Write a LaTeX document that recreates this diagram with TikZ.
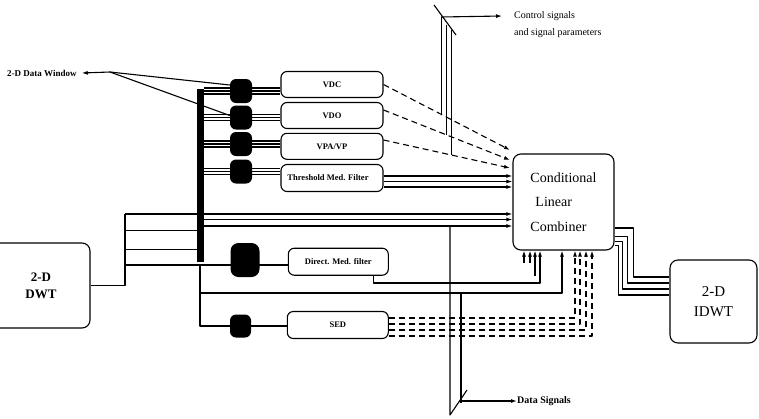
\documentclass[tikz,border=0pt]{standalone}
\usepackage{fontspec}
\setmainfont{Liberation Serif}
\usetikzlibrary{arrows.meta,calc}

\tikzset{
  unit/.style={draw,line width=1.1pt,rounded corners=6pt,minimum width=102pt,minimum height=26pt,
    inner sep=0pt,font=\fontsize{8.5}{10}\selectfont\bfseries},
  blob/.style={fill=black,rounded corners=6pt,minimum width=22pt,minimum height=24pt,inner sep=0pt},
  bigbox/.style={draw,line width=1.1pt,rounded corners=8pt,inner sep=0pt,align=center},
  wire/.style={line width=1.1pt},
  sig/.style={wire,-{Latex[length=6pt,width=4pt]}},
  ctl/.style={sig,dash pattern=on 6pt off 4pt},
  note/.style={inner sep=0pt,font=\fontsize{9}{10}\selectfont\bfseries}
}

\begin{document}
\begin{tikzpicture}[x=1pt,y=-1pt,line join=round]
  \useasboundingbox (0,0) rectangle (759,418);
  % transforms and combiner
  \node[bigbox,minimum width=98pt,minimum height=85pt,font=\fontsize{13}{17}\selectfont\bfseries]
    (dwt) at (41,285.5) {2-D\\DWT};
  \node[bigbox,minimum width=101pt,minimum height=96pt,align=left,font=\fontsize{14}{24.5}\selectfont]
    (clc) at (563.5,202) {Conditional\\\hspace{5pt}Linear\\Combiner};
  \node[bigbox,minimum width=87pt,minimum height=83pt,font=\fontsize{15}{20}\selectfont]
    (idwt) at (713.5,301.5) {2-D\\IDWT};
  % data window bus
  \node[fill=black,minimum width=7pt,minimum height=173pt,inner sep=0pt] (bus) at (200.5,175.5) {};
  % filters
  \foreach \n/\y/\t in {vdc/84.5/VDC, vdo/115.5/VDO, vpa/146.3/{VPA/VP}}
    \node[unit] (\n) at (332,\y) {\t};
  \node[unit,minimum height=27pt] (thr) at (332,178) {Threshold Med. Filter\hspace*{8pt}};
  \node[unit,minimum width=100pt,minimum height=27pt] (dmf) at (338.3,261.7) {Direct. Med. filter};
  \node[unit,minimum width=101pt,minimum height=27pt] (sed) at (337.8,325) {SED};
  % window blobs
  \foreach \n/\y in {w1/91, w2/117.5, w3/144, w4/171.5}
    \node[blob] (\n) at (241,\y) {};
  \node[blob,minimum width=29pt,minimum height=34pt,rounded corners=8pt] (wd) at (245,260) {};
  \node[blob,minimum width=21pt,minimum height=23pt] (ws) at (240.5,326) {};
  % bus -> windows -> filters
  \foreach \w/\f in {w1/vdc, w2/vdo, w3/vpa, w4/thr}
    \foreach \d in {-3,0,3}{
      \draw[wire] ([yshift=\d pt]\w.west -| bus.east) -- ([yshift=\d pt]\w.west);
      \draw[wire] ([yshift=\d pt]\w.east) -- ([yshift=\d pt]\w.east -| \f.west);
    }
  % data window label
  \node[note,anchor=west] (dwin) at (7,73) {2-D Data Window};
  \coordinate (dwj) at (110,72);
  \draw[sig] (dwj) -- ([xshift=5pt]dwin.east);
  \draw[wire] (dwj) -- ([yshift=6pt]w1.west);
  \draw[wire] (dwj) -- ([yshift=2pt]w2.west);
  % DWT outputs
  \coordinate (s1) at (125,214);
  \coordinate (s2) at (125,230.7);
  \coordinate (s3) at (125,249.3);
  \coordinate (s4) at (125,265);
  \coordinate (s5) at (200,265);
  \coordinate (s6) at (200,293);
  \draw[wire] (dwt.east) -| (s1);
  \draw[sig] (s1) -- (s1 -| clc.west);
  \draw[wire] (s2) -- (s2 -| bus.west);
  \draw[wire] (s3) -- (s3 -| bus.west);
  \draw[wire] (s4) -- (s4 -| dmf.west);
  \draw[wire] (s5) |- (ws.west);
  \draw[wire] (ws.east) -- (ws.east -| sed.west);
  \draw[sig] (s6) -| ([xshift=-1.5pt]clc.south);
  % bus -> combiner
  \coordinate (o1) at (204,219.5);
  \coordinate (o2) at (204,226);
  \draw[sig] (o1) -- (o1 -| clc.west);
  \draw[sig] (o2) -- (o2 -| clc.west);
  % threshold -> combiner
  \foreach \d in {2,-3.5,-9}
    \draw[sig] ([yshift=\d pt]thr.east) -- ([yshift=\d pt]thr.east -| clc.west);
  % control paths
  \coordinate (c1) at (510,150);
  \coordinate (c2) at (510,160);
  \coordinate (c3) at (510,168);
  \draw[ctl] (vdc.east) -- coordinate[pos=0.457] (t1) (c1);
  \draw[ctl] ([yshift=5.5pt]vdo.east) -- coordinate[pos=0.496] (t2) (c2);
  \draw[ctl] ([yshift=6.3pt]vpa.east) -- coordinate[pos=0.535] (t3) (c3);
  % control signal tap
  \coordinate (k1) at (441,17);
  \coordinate (k2) at (446,25);
  \coordinate (k3) at (451,30);
  \coordinate (ka) at (434,5);
  \coordinate (kb) at (456,35);
  \draw[wire] (t1) -- (t1 |- k1);
  \draw[wire] (t2) -- (t2 |- k2);
  \draw[wire] (t3) -- (t3 |- k3);
  \draw[wire] (ka) -- (kb);
  \node[anchor=west,inner sep=0pt,font=\fontsize{10}{12}\selectfont] (ctext) at (514,16) {Control signals};
  \node[anchor=west,inner sep=0pt,font=\fontsize{10}{12}\selectfont] (ptext) at (514,33) {and signal parameters};
  \draw[sig] (k1) -- ([xshift=-12pt]ctext.west);
  % direct median filter -> combiner
  \coordinate (m1) at (540,283);
  \draw[sig] ([xshift=35pt]dmf.south) |- (m1) -- (m1 |- clc.south);
  \draw[sig] ([xshift=-28.5pt,yshift=-25pt]clc.south) -- ([xshift=-28.5pt]clc.south);
  \foreach \dx in {-39.5,-33.5}
    \draw[sig] ([xshift=\dx pt,yshift=-12pt]clc.south) -- ([xshift=\dx pt]clc.south);
  % SED -> combiner
  \foreach \dy/\dx in {7/11.5, 1/16.5, -5/22.5, -11/28.5}
    \draw[ctl] ([yshift=\dy pt]sed.east) -| ([xshift=\dx pt]clc.south);
  % data signal tap
  \coordinate (d1) at (450,226);
  \coordinate (d1b) at (450,415);
  \coordinate (d2) at (461,293);
  \coordinate (d2b) at (461,403);
  \coordinate (dz) at (467,390);
  \draw[wire] (d1) -- (d1b) -- (dz);
  \draw[wire] (d2) -- (d2b);
  \node[anchor=west,inner sep=0pt,font=\fontsize{10}{12}\selectfont\bfseries] (dtext) at (517,401) {Data Signals};
  \draw[sig] ([yshift=2pt]d2b) -- (dtext.west);
  % combiner -> IDWT
  \foreach \a/\dx/\b in {26/19/24.5, 34.5/13/18.5, 39.5/8/12.5, 43.5/4/6.5}
    \draw[wire] ([yshift=-\a pt]clc.east) -- ++(\dx,0) |- ([yshift=\b pt]idwt.west);
\end{tikzpicture}
\end{document}
